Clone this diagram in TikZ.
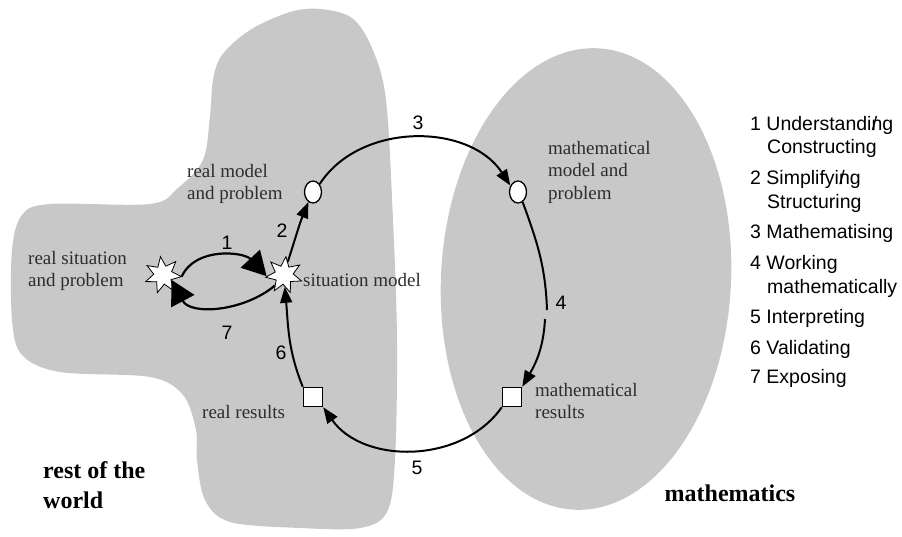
\documentclass[tikz,border=0pt]{standalone}
\usepackage{fontspec}
\setmainfont{Liberation Serif}
\newfontfamily\lsans{Liberation Sans}
\usetikzlibrary{arrows.meta,shapes.geometric}
\definecolor{bgray}{RGB}{200,200,200}
\definecolor{txt}{RGB}{45,45,45}
\begin{document}
\begin{tikzpicture}[x=1pt,y=1pt,
  lbl/.style={font=\fontsize{19}{22.5}\selectfont, align=left, inner sep=0pt, anchor=west, text=txt},
  bigl/.style={font=\fontsize{24}{30}\selectfont\bfseries, align=left, inner sep=0pt, anchor=west},
  num/.style={font=\lsans\fontsize{19.5}{20}\selectfont, inner sep=0pt},
  lst/.style={font=\lsans\fontsize{19.5}{22}\selectfont, inner sep=0pt, anchor=west},
  starnode/.style={star, star points=7, star point ratio=2, minimum size=37pt, inner sep=0pt, draw, fill=white, line width=0.8pt},
  oval/.style={ellipse, minimum width=17pt, minimum height=22pt, inner sep=0pt, draw, fill=white, line width=1.3pt},
  sq/.style={rectangle, minimum size=19pt, inner sep=0pt, draw, fill=white, line width=1.5pt},
  conn/.style={line width=2pt, -{Triangle[length=16pt,width=12pt]}},
  plain/.style={line width=2pt},
  bigconn/.style={line width=2.2pt, -{Triangle[length=24pt,width=26pt]}}]
\useasboundingbox (0,0) rectangle (902,536);
% gray regions
\fill[bgray] plot[smooth cycle, tension=0.55] coordinates {
 (320,527) (352,518) (372,488) (386,436) (393,316) (397,196) (395,76) (387,24) (360,8)
 (300,8) (230,14) (205,36) (197,76) (196,106) (183,141) (150,159) (60,164)
 (22,181) (12,216) (12,286) (22,321) (50,332) (150,332) (178,348) (203,376)
 (210,420) (213,456) (222,481) (250,506) (290,524)};
\fill[bgray, rotate around={-3:(586,257)}] (586,257) ellipse [x radius=145pt, y radius=231pt];
% nodes
\node[starnode, rotate=8] (rsit) at (163,261) {};
\node[starnode, rotate=-6] (sm) at (284,261) {};
\node[oval] (rm) at (313,344) {};
\node[oval] (mm) at (518,344) {};
\node[sq] (ms) at (512,139) {};
\node[sq] (rr) at (313,139) {};
\coordinate (g1) at (547,226);
\coordinate (g2) at (545,217);
% connectors
\draw[conn] (rm.50) to[out=57,in=123] (mm.140);
\draw[plain] (mm.-65) to[out=-70,in=92] (g1);
\draw[conn] (g2) to[out=-93,in=60] (ms.north east);
\draw[conn] (ms.south west) to[out=-125,in=-55] (rr.south east);
\draw[conn] (rr.north west) to[out=112,in=-85] (sm.-80);
\draw[conn] (sm.80) to[out=72,in=-112] (rm.-115);
\draw[bigconn] (rsit.-12) to[out=65,in=133] (sm.190);
\draw[bigconn] (sm.235) to[out=-140,in=-62] (rsit.-38);
% arc labels
\node[num] (n1) at (227,293) {1};
\node[num] (n2) at (282,305) {2};
\node[num] (n3) at (418,413) {3};
\node[num] (n4) at (561,233) {4};
\node[num] (n5) at (417,68) {5};
\node[num] (n6) at (281,183) {6};
\node[num] (n7) at (227,203) {7};
% texts
\node[lbl] (trm) at (187,352) {real model\\and problem};
\node[lbl] (trs) at (28,265) {real situation\\and problem};
\node[lbl] (tsm) at (303,256) {situation model};
\node[lbl] (trr) at (202,124) {real results};
\node[lbl] (tmm) at (548,364) {mathematical\\model and\\problem};
\node[lbl] (tms) at (535,135) {mathematical\\results};
\node[bigl] (trw) at (43,51) {rest of the\\world};
\node[bigl, anchor=center] (tm) at (730,43) {mathematics};
% list
\node[lst] (l1) at (750,411) {1 Understandi\makebox[0pt][l]{\kern0.02em/}ng};
\node[lst] (l1b) at (767,387.5) {Constructing};
\node[lst] (l2) at (750,357) {2 Simplifyi\makebox[0pt][l]{\kern0.02em/}ng};
\node[lst] (l2b) at (767,333) {Structuring};
\node[lst] (l3) at (750,303) {3 Mathematising};
\node[lst] (l4) at (750,272) {4 Working};
\node[lst] (l4b) at (767,248) {mathematically};
\node[lst] (l5) at (750,218) {5 Interpreting};
\node[lst] (l6) at (750,187) {6 Validating};
\node[lst] (l7) at (750,158) {7 Exposing};
\end{tikzpicture}
\end{document}
